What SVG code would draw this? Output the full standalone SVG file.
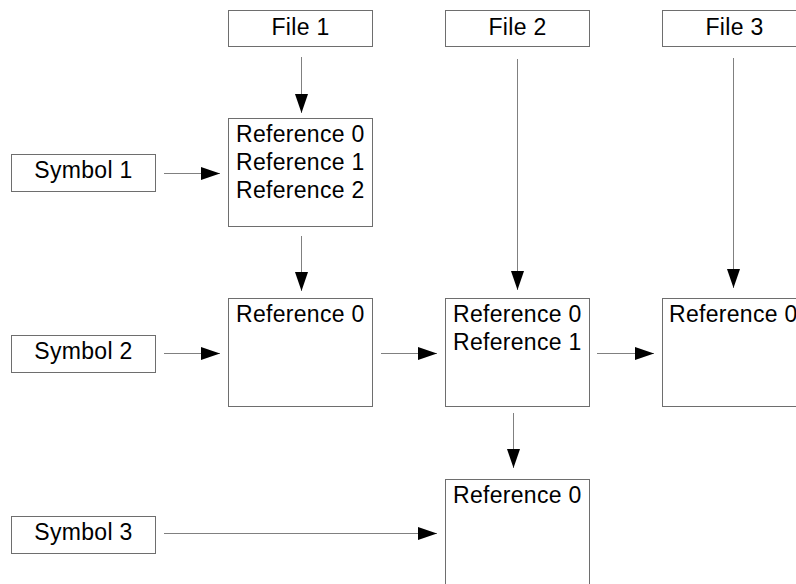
<svg xmlns="http://www.w3.org/2000/svg" width="796" height="584" viewBox="0 0 796 584">
  <defs>
    <marker id="head" markerUnits="userSpaceOnUse" markerWidth="20" markerHeight="14" refX="19" refY="6.5" orient="auto">
      <path d="M0,0 L19,6.5 L0,13 Z" fill="#000"/>
    </marker>
    <style>
      .box { fill: #fff; stroke: #6e6e6e; stroke-width: 1; }
      .lbl { font-family: "Liberation Sans", Arial, Helvetica, sans-serif; font-size: 23px; letter-spacing: 0.3px; fill: #000; }
      .mid { text-anchor: middle; }
      .edge { stroke: #808080; stroke-width: 1; fill: none; marker-end: url(#head); }
    </style>
  </defs>
  <rect width="796" height="584" fill="#fff"/>

  <!-- source files -->
  <g id="file1">
    <rect class="box" x="228.5" y="10.5" width="144" height="36"/>
    <text class="lbl mid" x="300.5" y="34.5">File 1</text>
  </g>
  <g id="file2">
    <rect class="box" x="445.5" y="10.5" width="144" height="36"/>
    <text class="lbl mid" x="517.5" y="34.5">File 2</text>
  </g>
  <g id="file3">
    <rect class="box" x="662.5" y="10.5" width="144" height="36"/>
    <text class="lbl mid" x="734.5" y="34.5">File 3</text>
  </g>

  <!-- symbols -->
  <g id="symbol1">
    <rect class="box" x="11.5" y="154.5" width="144" height="37"/>
    <text class="lbl mid" x="83.5" y="178">Symbol 1</text>
  </g>
  <g id="symbol2">
    <rect class="box" x="11.5" y="335.5" width="144" height="37"/>
    <text class="lbl mid" x="83.5" y="359">Symbol 2</text>
  </g>
  <g id="symbol3">
    <rect class="box" x="11.5" y="516.5" width="144" height="37"/>
    <text class="lbl mid" x="83.5" y="540">Symbol 3</text>
  </g>

  <!-- reference tables -->
  <g id="refA">
    <rect class="box" x="228.5" y="118.5" width="144" height="108"/>
    <text class="lbl" x="236" y="142">Reference 0</text>
    <text class="lbl" x="236" y="170">Reference 1</text>
    <text class="lbl" x="236" y="197.5">Reference 2</text>
  </g>
  <g id="refB">
    <rect class="box" x="228.5" y="298.5" width="144" height="108"/>
    <text class="lbl" x="236" y="322">Reference 0</text>
  </g>
  <g id="refC">
    <rect class="box" x="445.5" y="298.5" width="144" height="108"/>
    <text class="lbl" x="453" y="322">Reference 0</text>
    <text class="lbl" x="453" y="350">Reference 1</text>
  </g>
  <g id="refD">
    <rect class="box" x="662.5" y="298.5" width="144" height="108"/>
    <text class="lbl" x="669" y="322">Reference 0</text>
  </g>
  <g id="refE">
    <rect class="box" x="445.5" y="479.5" width="144" height="108"/>
    <text class="lbl" x="453" y="503">Reference 0</text>
  </g>

  <!-- connectors -->
  <g id="connectors">
    <line class="edge" x1="301.5" y1="57" x2="301.5" y2="113"/>
    <line class="edge" x1="301.5" y1="236" x2="301.5" y2="291"/>
    <line class="edge" x1="517.5" y1="59" x2="517.5" y2="290"/>
    <line class="edge" x1="733.5" y1="58" x2="733.5" y2="288"/>
    <line class="edge" x1="513.5" y1="413" x2="513.5" y2="468"/>
    <line class="edge" x1="164" y1="173.5" x2="220" y2="173.5"/>
    <line class="edge" x1="164" y1="353.5" x2="220" y2="353.5"/>
    <line class="edge" x1="381" y1="353.5" x2="437" y2="353.5"/>
    <line class="edge" x1="597" y1="353.5" x2="654" y2="353.5"/>
    <line class="edge" x1="164" y1="533.5" x2="437" y2="533.5"/>
  </g>
</svg>
